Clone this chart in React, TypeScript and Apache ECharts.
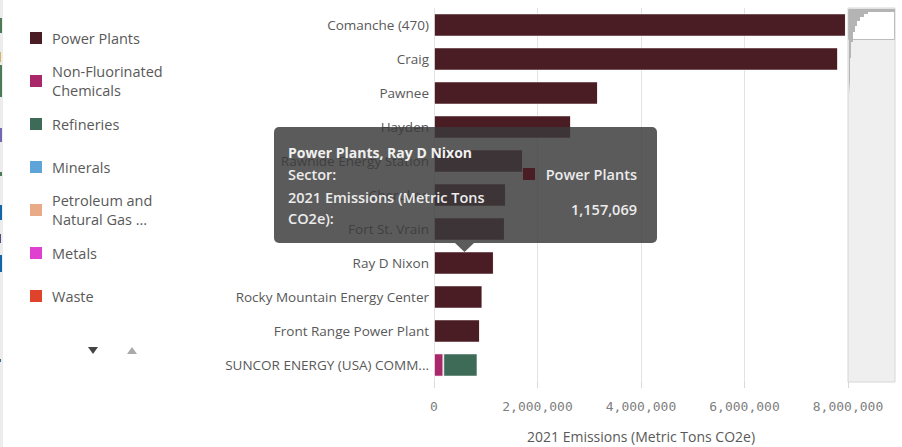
import React, { useEffect, useRef } from "react";
import * as echarts from "echarts";

const facilities = [
  "Comanche (470)",
  "Craig",
  "Pawnee",
  "Hayden",
  "Rawhide Energy Station",
  "Cherokee",
  "Fort St. Vrain",
  "Ray D Nixon",
  "Rocky Mountain Energy Center",
  "Front Range Power Plant",
  "SUNCOR ENERGY (USA) COMM...",
];
const powerPlants = [7960000, 7810000, 3170000, 2650000, 1720000, 1390000, 1370000, 1157069, 936000, 890000, 0];
const nonFluorinatedChemicals = [0, 0, 0, 0, 0, 0, 0, 0, 0, 0, 180000];
const refineries = [0, 0, 0, 0, 0, 0, 0, 0, 0, 0, 660000];
const sectorNames = [
  "Power Plants",
  "Non-Fluorinated Chemicals",
  "Refineries",
  "Minerals",
  "Petroleum and Natural Gas Systems",
  "Metals",
  "Waste",
];
const legendLabels = [
  "Power Plants",
  "Non-Fluorinated\nChemicals",
  "Refineries",
  "Minerals",
  "Petroleum and\nNatural Gas ...",
  "Metals",
  "Waste",
];
const sectorColors = ["#4a1c24", "#a8286a", "#3d6b57", "#5fa4d9", "#e9aa88", "#e040d0", "#e0432c"];
const sectorValues = [powerPlants, nonFluorinatedChemicals, refineries, [], [], [], []];
const axisTitle = "2021 Emissions (Metric Tons CO2e)";
const hoveredIndex = 7;
const hoveredSector = 0;

const FONT = "'Open Sans', 'Noto Sans', sans-serif";

export default function App() {
  const ref = useRef<HTMLDivElement>(null);
  useEffect(() => {
    if (!ref.current) return;
    const chart = echarts.init(ref.current, undefined, { renderer: "svg" });
    const fmt = (v: number) => v.toLocaleString("en-US");

    const legendGraphics: any[] = [];
    legendLabels.forEach((label, i) => {
      const cy = 38 + i * 43;
      legendGraphics.push({
        type: "rect",
        shape: { x: 30, y: cy - 6, width: 12, height: 12 },
        style: { fill: sectorColors[i] },
        z: 50,
      });
      legendGraphics.push({
        type: "text",
        x: 52,
        y: cy,
        style: {
          text: label,
          fill: "#595959",
          font: `14.5px ${FONT}`,
          lineHeight: 19,
          verticalAlign: "middle",
          align: "left",
        },
        z: 50,
      });
    });

    const leftStrip: any[] = [
      { type: "rect", shape: { x: 0, y: 0, width: 3, height: 447 }, style: { fill: "#ececec" } },
      { type: "rect", shape: { x: 0, y: 18, width: 2, height: 15 }, style: { fill: "#4d7a57" } },
      { type: "rect", shape: { x: 0, y: 52, width: 1, height: 10 }, style: { fill: "#d6b46a" } },
      { type: "rect", shape: { x: 0, y: 65, width: 2, height: 32 }, style: { fill: "#4d7a57" } },
      { type: "rect", shape: { x: 0, y: 128, width: 2, height: 14 }, style: { fill: "#7068b0" } },
      { type: "rect", shape: { x: 0, y: 172, width: 2, height: 4 }, style: { fill: "#4d7a57" } },
      { type: "rect", shape: { x: 0, y: 205, width: 2, height: 15 }, style: { fill: "#1464a8" } },
      { type: "rect", shape: { x: 0, y: 234, width: 1, height: 9 }, style: { fill: "#505080" } },
      { type: "rect", shape: { x: 0, y: 255, width: 2, height: 17 }, style: { fill: "#1464a8" } },
      { type: "rect", shape: { x: 0, y: 359, width: 1, height: 3 }, style: { fill: "#3a7090" } },
    ];

    const scrollbar: any[] = [
      { type: "rect", shape: { x: 848, y: 8, width: 47, height: 374 }, style: { fill: "#efefef", stroke: "#d6d6d6", lineWidth: 1 }, z: 5 },
      { type: "rect", shape: { x: 848.5, y: 9.5, width: 46, height: 30 }, style: { fill: "#ffffff", stroke: "#bdbdbd", lineWidth: 1 }, z: 6 },
      {
        type: "polygon",
        shape: {
          points: [
            [849, 9], [895, 9], [895, 12], [868, 12], [868, 14], [864, 14], [864, 17], [860, 17], [860, 21],
            [857, 21], [857, 26], [855, 26], [855, 32], [853, 32], [853, 42], [851, 42], [851, 58],
            [850, 58], [850, 80], [849, 95],
          ],
        },
        style: { fill: "#b4b4b4" },
        z: 7,
      },
    ];

    const tipX = 274, tipY = 127, tipW = 383, tipH = 116;
    const tooltip: any[] = [
      {
        type: "rect",
        shape: { x: tipX, y: tipY, width: tipW, height: tipH, r: 5 },
        style: { fill: "rgba(58,58,58,0.83)" },
        z: 100,
      },
      {
        type: "polygon",
        shape: { points: [[455, 243], [474, 243], [464.5, 252]] },
        style: { fill: "rgba(58,58,58,0.83)" },
        z: 100,
      },
      {
        type: "text",
        x: 288, y: 152,
        style: { text: `${sectorNames[hoveredSector]}, ${facilities[hoveredIndex]}`, fill: "#f0f0f0", font: `bold 14px ${FONT}`, verticalAlign: "middle" },
        z: 101,
      },
      {
        type: "text",
        x: 288, y: 174,
        style: { text: "Sector:", fill: "#ececec", font: `600 14.5px ${FONT}`, verticalAlign: "middle" },
        z: 101,
      },
      {
        type: "text",
        x: 288, y: 208,
        style: { text: "2021 Emissions (Metric Tons\nCO2e):", fill: "#ececec", font: `600 14.5px ${FONT}`, lineHeight: 21, verticalAlign: "middle" },
        z: 101,
      },
      {
        type: "rect",
        shape: { x: 523, y: 168, width: 12, height: 12 },
        style: { fill: sectorColors[hoveredSector] },
        z: 101,
      },
      {
        type: "text",
        x: 637, y: 174,
        style: { text: sectorNames[hoveredSector], fill: "#ececec", font: `600 14.5px ${FONT}`, align: "right", verticalAlign: "middle" },
        z: 101,
      },
      {
        type: "text",
        x: 637, y: 209,
        style: { text: fmt(powerPlants[hoveredIndex]), fill: "#ececec", font: `600 14.5px ${FONT}`, align: "right", verticalAlign: "middle" },
        z: 101,
      },
    ];

    const arrows: any[] = [
      { type: "polygon", shape: { points: [[88, 347], [98, 347], [93, 354]] }, style: { fill: "#444" } },
      { type: "polygon", shape: { points: [[127, 354], [137, 354], [132, 347]] }, style: { fill: "#aaaaaa" } },
    ];

    chart.setOption({
      animation: false,
      backgroundColor: "#ffffff",
      grid: { left: 434, right: 54, top: 8, bottom: 65, containLabel: false, outerBoundsMode: "none" },
      xAxis: {
        type: "value",
        min: 0,
        max: 8000000,
        interval: 2000000,
        name: axisTitle,
        nameLocation: "middle",
        nameGap: 47,
        nameTextStyle: { color: "#595959", fontSize: 14, fontFamily: FONT },
        axisLine: { show: false },
        axisTick: { show: true, length: 6, lineStyle: { color: "#d9d9d9" } },
        axisLabel: {
          color: "#808080",
          fontSize: 13,
          fontFamily: "'DejaVu Sans Mono', monospace",
          margin: 18,
          formatter: (v: number) => fmt(v),
        },
        splitLine: { show: true, lineStyle: { color: "#e3e3e3", width: 1 } },
      },
      yAxis: {
        type: "category",
        inverse: true,
        data: facilities,
        axisLine: { show: false },
        axisTick: { show: false },
        axisLabel: { color: "#595959", fontSize: 13.5, fontFamily: FONT, margin: 5 },
      },
      series: sectorNames.map((name, i) => ({
        name,
        type: "bar",
        stack: "total",
        barCategoryGap: "32%",
        data: sectorValues[i],
        itemStyle: { color: sectorColors[i], borderColor: "rgba(255,255,255,0.55)", borderWidth: 1 },
      })),
      graphic: { elements: [...leftStrip, ...legendGraphics, ...arrows, ...scrollbar, ...tooltip] },
    });
    return () => chart.dispose();
  }, []);
  return <div ref={ref} style={{ position: "fixed", left: 0, top: 0, width: 902, height: 447 }} />;
}
